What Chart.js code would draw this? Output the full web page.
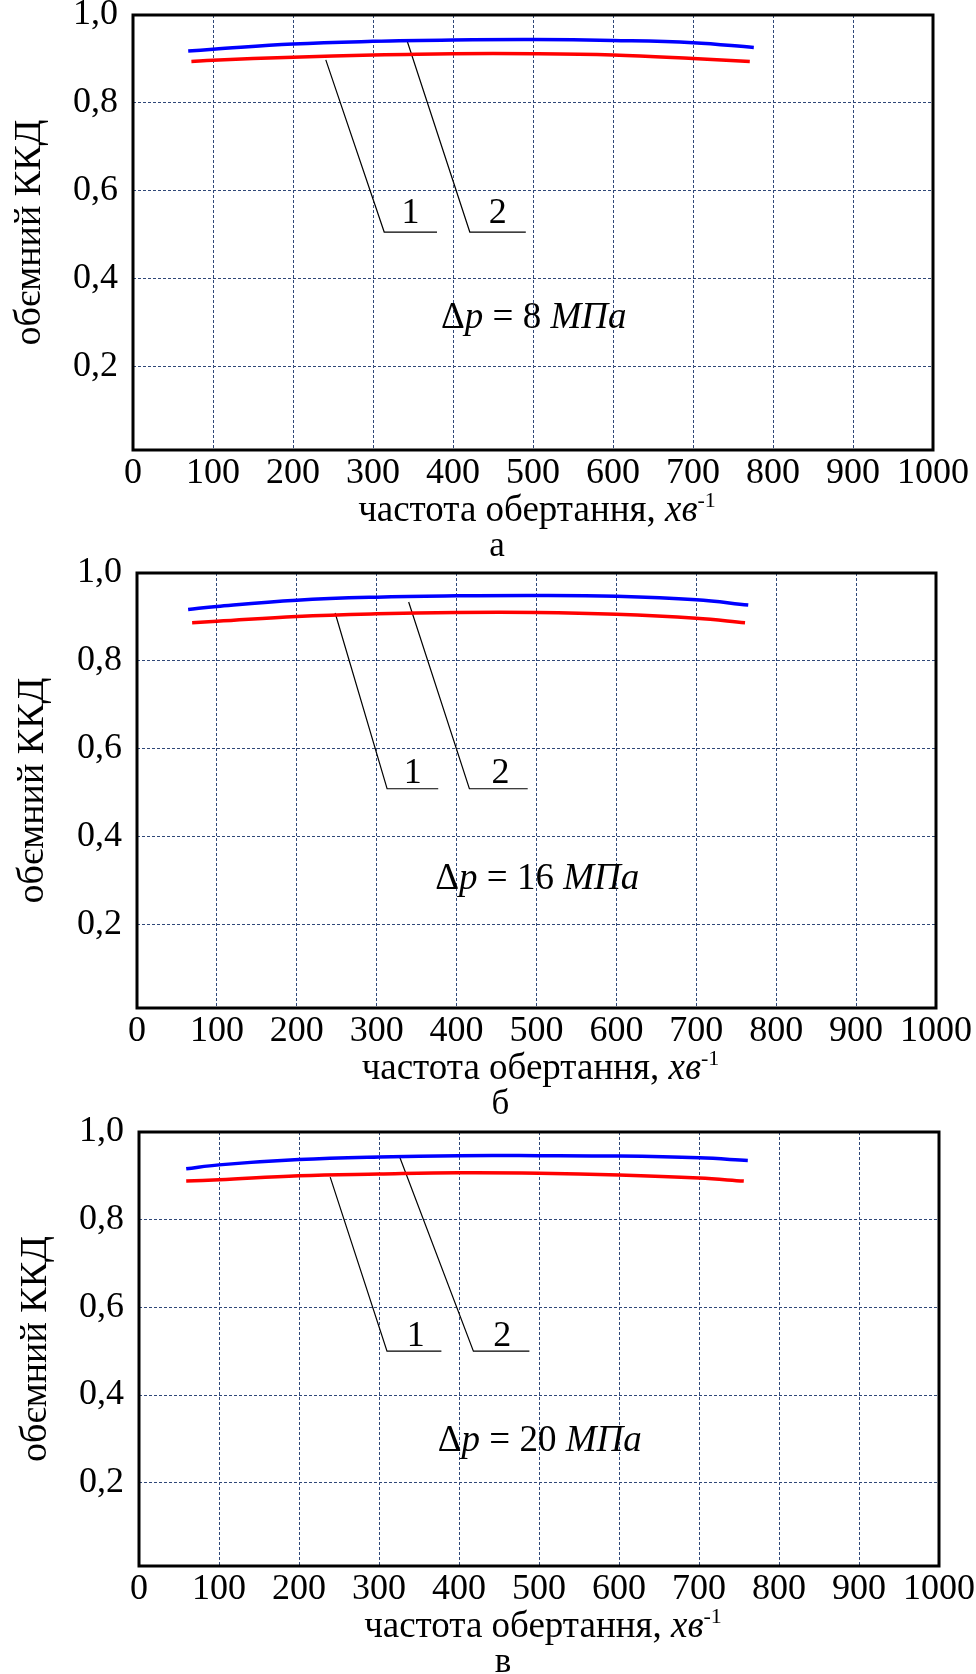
<!DOCTYPE html>
<html lang="uk">
<head>
<meta charset="UTF-8" />
<title>обємний ККД</title>
<script src="https://cdn.jsdelivr.net/npm/chart.js"></script>
<style>
  body {
    margin: 0;
    width: 976px;
    height: 1674px;
    position: relative;
    overflow: hidden;
    background: #fff;
    font-family: "Liberation Serif", "Times New Roman", serif;
    color: #000;
  }
  canvas { position: absolute; left: 0; }
  .xtitle, .letter {
    position: absolute;
    line-height: 37px;
    white-space: nowrap;
    transform: translateX(-50%);
  }
  .xtitle { font-size: 37px; }
  .letter { font-size: 35px; }
  .xtitle sup {
    font-size: 22px;
    line-height: 0;
    vertical-align: 14px;
  }
</style>
</head>
<body>
<script>
  // частота обертання (хв-1) та обємний ККД, криві 1 (червона) і 2 (синя)
  const yTicks = [0.2, 0.4, 0.6, 0.8, 1.0];
  const pressures = [8, 16, 20];
  const letters = ["а", "б", "в"];

  // панель а
  const rpmRedA = [73, 100, 200, 300, 400, 500, 600, 700, 771];
  const kkdRedA = [0.894, 0.897, 0.904, 0.909, 0.912, 0.912, 0.909, 0.901, 0.894];
  const rpmBlueA = [69, 100, 200, 300, 400, 500, 600, 700, 776];
  const kkdBlueA = [0.918, 0.922, 0.934, 0.940, 0.943, 0.944, 0.942, 0.937, 0.926];

  // панель б
  const rpmRedB = [69, 100, 200, 300, 400, 500, 600, 700, 761];
  const kkdRedB = [0.887, 0.890, 0.901, 0.907, 0.910, 0.910, 0.906, 0.897, 0.887];
  const rpmBlueB = [64, 100, 200, 300, 400, 500, 600, 700, 765];
  const kkdBlueB = [0.917, 0.924, 0.938, 0.945, 0.948, 0.949, 0.947, 0.939, 0.927];

  // панель в
  const rpmRedC = [59, 100, 200, 300, 400, 500, 600, 700, 756];
  const kkdRedC = [0.888, 0.891, 0.900, 0.904, 0.907, 0.906, 0.902, 0.895, 0.888];
  const rpmBlueC = [59, 100, 200, 300, 400, 500, 600, 700, 761];
  const kkdBlueC = [0.916, 0.925, 0.937, 0.943, 0.946, 0.946, 0.945, 0.941, 0.935];

  // виноски 1 і 2
  const lead1A = [[241, 0.898], [314, 0.506], [380, 0.506]];
  const lead2A = [[343, 0.939], [421, 0.506], [491, 0.506]];
  const lead1B = [[248, 0.909], [313, 0.509], [377, 0.509]];
  const lead2B = [[340, 0.934], [416, 0.509], [489, 0.509]];
  const lead1C = [[239, 0.897], [310, 0.500], [378, 0.500]];
  const lead2C = [[325, 0.947], [418, 0.500], [488, 0.500]];
  const numPosA = [[347, 0.547], [456, 0.547]];
  const numPosB = [[345, 0.543], [455, 0.543]];
  const numPosC = [[346, 0.534], [454, 0.534]];
  const notePos = [[501, 0.309], [501, 0.302], [501, 0.294]];

  const panels = [
    { left: 133, right: 933, top: 15, bottom: 450, ytitle: 30,
      red: [rpmRedA, kkdRedA], blue: [rpmBlueA, kkdBlueA], lead: [lead1A, lead2A], nums: numPosA },
    { left: 137, right: 936, top: 573, bottom: 1008, ytitle: 33,
      red: [rpmRedB, kkdRedB], blue: [rpmBlueB, kkdBlueB], lead: [lead1B, lead2B], nums: numPosB },
    { left: 139, right: 939, top: 1132, bottom: 1566, ytitle: 36,
      red: [rpmRedC, kkdRedC], blue: [rpmBlueC, kkdBlueC], lead: [lead1C, lead2C], nums: numPosC },
  ];

  Chart.defaults.font.family = '"Liberation Serif", "Times New Roman", serif';
  Chart.defaults.color = "#000";

  const toPoints = (xs, ys) => xs.map((x, i) => ({ x: x, y: ys[i] }));

  const notesPlugin = {
    id: "notes",
    afterDraw(chart, args, opts) {
      const { ctx, chartArea } = chart;
      const sx = chart.scales.x;
      const sy = chart.scales.y;
      ctx.save();
      ctx.fillStyle = "#000";
      ctx.textBaseline = "middle";

      // номери кривих
      ctx.font = '36px "Liberation Serif"';
      ctx.textAlign = "center";
      opts.nums.forEach((n, i) => {
        ctx.fillText(String(i + 1), sx.getPixelForValue(n[0]), sy.getPixelForValue(n[1]));
      });

      // Δp = .. МПа
      const parts = [
        ["Δ", ""],
        ["p", "italic "],
        [" = " + opts.dp + " ", ""],
        ["МПа", "italic "],
      ];
      let total = 0;
      parts.forEach((p) => {
        ctx.font = p[1] + '37px "Liberation Serif"';
        total += ctx.measureText(p[0]).width;
      });
      let px = sx.getPixelForValue(opts.note[0]) - total / 2;
      const py = sy.getPixelForValue(opts.note[1]);
      ctx.textAlign = "left";
      parts.forEach((p) => {
        ctx.font = p[1] + '37px "Liberation Serif"';
        ctx.fillText(p[0], px, py);
        px += ctx.measureText(p[0]).width;
      });

      // рамка
      ctx.lineWidth = 3;
      ctx.strokeStyle = "#000";
      ctx.strokeRect(chartArea.left, chartArea.top, chartArea.right - chartArea.left, chartArea.bottom - chartArea.top);
      ctx.restore();
    },
  };

  panels.forEach((p, k) => {
    const padTop = 15;
    const axisH = 45;
    const canvas = document.createElement("canvas");
    canvas.width = 976;
    canvas.height = p.bottom - p.top + padTop + axisH;
    canvas.style.top = p.top - padTop + "px";
    document.body.appendChild(canvas);

    const leadSets = p.lead.map((l) => ({
      data: l.map((pt) => ({ x: pt[0], y: pt[1] })),
      borderColor: "#000",
      borderWidth: 1.2,
      pointRadius: 0,
      tension: 0,
    }));

    new Chart(canvas, {
      type: "line",
      data: {
        datasets: [
          {
            label: "1",
            data: toPoints(p.red[0], p.red[1]),
            borderColor: "#ff0000",
            borderWidth: 3.5,
            pointRadius: 0,
            tension: 0.4,
          },
          {
            label: "2",
            data: toPoints(p.blue[0], p.blue[1]),
            borderColor: "#0000ff",
            borderWidth: 3.5,
            pointRadius: 0,
            tension: 0.4,
          },
        ].concat(leadSets),
      },
      options: {
        responsive: false,
        animation: false,
        events: [],
        layout: { padding: { left: 0, top: padTop, right: 976 - p.right, bottom: 0 } },
        plugins: {
          legend: { display: false },
          tooltip: { enabled: false },
          notes: { dp: pressures[k], note: notePos[k], nums: p.nums },
        },
        scales: {
          x: {
            type: "linear",
            min: 0,
            max: 1000,
            grid: { color: "#2f4778", lineWidth: 1, drawTicks: false },
            border: { display: false, dash: [3, 2] },
            ticks: {
              stepSize: 100,
              autoSkip: false,
              maxRotation: 0,
              padding: 2,
              font: { size: 36 },
              callback: (v) => String(v),
            },
            afterFit: (s) => {
              s.height = axisH;
              s.paddingLeft = 0;
              s.paddingRight = 0;
            },
          },
          y: {
            min: 0.01,
            max: 1.0,
            grid: { color: "#2f4778", lineWidth: 1, drawTicks: false },
            border: { display: false, dash: [3, 2] },
            afterBuildTicks: (s) => {
              s.ticks = yTicks.map((v) => ({ value: v }));
            },
            ticks: {
              padding: 15,
              font: { size: 36 },
              callback: (v) => v.toFixed(1).replace(".", ","),
            },
            title: {
              display: true,
              text: "обємний ККД",
              font: { size: 38 },
              padding: { top: p.ytitle - 22.8, bottom: 0 },
            },
            afterFit: (s) => {
              s.width = p.left;
              s.paddingTop = 0;
              s.paddingBottom = 0;
            },
          },
        },
      },
      plugins: [notesPlugin],
    });

    const mid = (p.left + p.right) / 2;
    const xt = document.createElement("div");
    xt.className = "xtitle";
    xt.innerHTML = "частота обертання, <i>хв</i><sup>-1</sup>";
    xt.style.left = mid + 4 + "px";
    xt.style.top = p.bottom + 71 - 31 + "px";
    document.body.appendChild(xt);

    const lt = document.createElement("div");
    lt.className = "letter";
    lt.textContent = letters[k];
    lt.style.left = mid - 36 + "px";
    lt.style.top = p.bottom + 106 - 30 + "px";
    document.body.appendChild(lt);
  });
</script>
</body>
</html>
